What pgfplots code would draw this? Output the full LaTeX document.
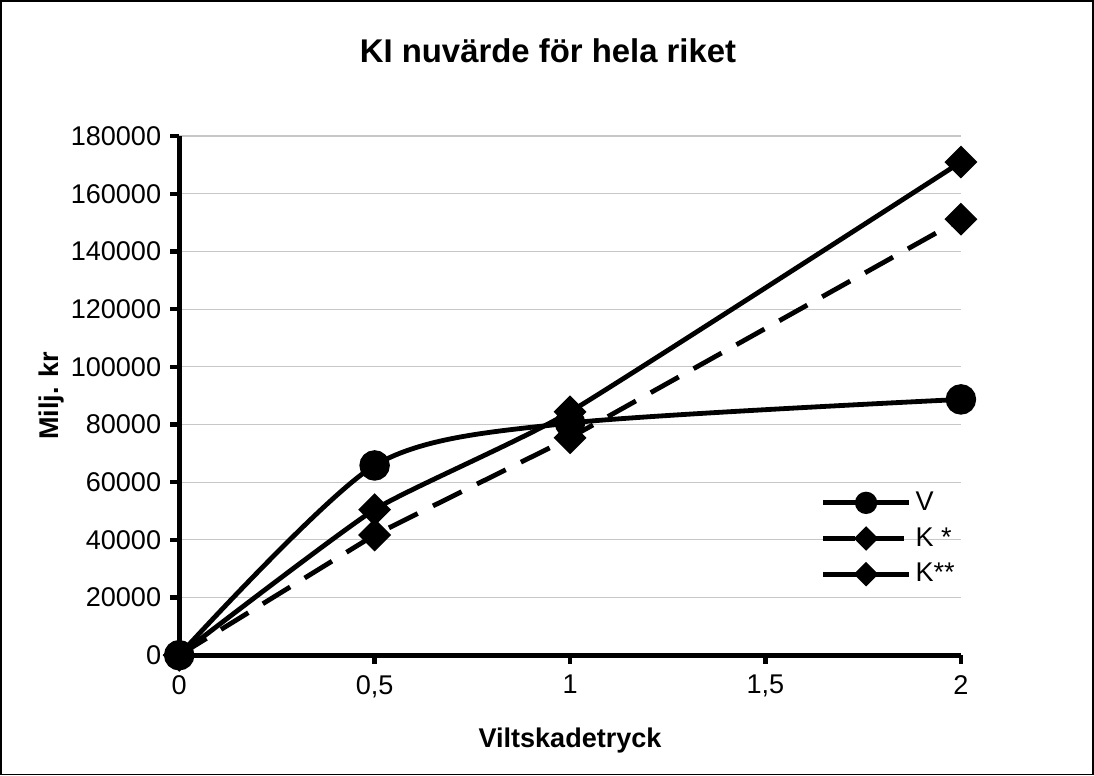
\documentclass[border=0pt]{standalone}
\usepackage{fontspec}
\setmainfont{Liberation Sans}
\usepackage{pgfplots}
\pgfplotsset{compat=1.18}
\usetikzlibrary{plotmarks}

% Values in Milj. kr per Viltskadetryck level
\pgfplotstableread{
x     V      Ks     Kss
0     0      0      0
0.5   65800  41700  50500
1     80500  75400  84400
2     88700  151200 171000
}\kidata

\begin{document}
\begin{tikzpicture}[x=1pt,y=1pt]
\begin{axis}[
  scale only axis,
  width=390pt, height=259pt,
  xmin=0, xmax=2, ymin=0, ymax=180000,
  axis lines=left,
  axis line style={line width=2.6pt, -},
  xtick={0,0.5,1,1.5,2},
  xticklabels={0,{0,5},1,{1,5},2},
  ytick={0,20000,...,180000},
  scaled y ticks=false,
  yticklabel style={/pgf/number format/fixed, /pgf/number format/1000 sep={}},
  /pgf/number format/assume math mode=true,
  tick style={black, line width=2.2pt},
  major tick style={line width=2.2pt},
  tick align=outside,
  major tick length=4.5pt,
  ymajorgrids,
  major grid style={color=black!22, line width=0.6pt},
  ticklabel style={font=\fontsize{13.5}{15}\selectfont},
  xticklabel style={yshift=-2pt},
  yticklabel style={xshift=-1pt},
  title={\textbf{KI nuvärde för hela riket}},
  title style={font=\fontsize{16.4}{18}\selectfont, at={(0.5,1)}, yshift=27pt, xshift=-11pt},
  xlabel={\textbf{Viltskadetryck}},
  ylabel={\textbf{Milj. kr}},
  label style={font=\fontsize{13.5}{15}\selectfont},
  xlabel style={yshift=-8pt},
  ylabel style={yshift=-3.5pt},
  clip=false,
  legend style={at={(axis cs:1.64,59500)}, anchor=north west, draw=none, fill=none,
    font=\fontsize{13.5}{15}\selectfont, row sep=3pt, inner xsep=0pt,
    /tikz/every even column/.append style={column sep=1pt}},
  legend cell align=left,
  legend image code/.code={
    \draw[#1, mark size=0pt] (0pt,0pt) -- (43pt,0pt);
    \draw[#1, solid, /tikz/every mark/.append style={scale=0.68, solid}]
      plot coordinates {(21.5pt,0pt)};
  },
]
\addplot[black, line width=2.4pt, smooth, tension=0.45, mark=*, mark size=6.4pt]
  table[x=x, y=V] {\kidata};
\addlegendentry{V}
\addplot[black, line width=2.4pt, dash pattern=on 16pt off 8.5pt, mark=square*, mark size=4.6pt,
  mark options={solid, rotate=45}]
  table[x=x, y=Ks] {\kidata};
\addlegendentry{K *}
\addplot[black, line width=2.4pt, smooth, tension=0.3, mark=square*, mark size=4.6pt,
  mark options={rotate=45}]
  table[x=x, y=Kss] {\kidata};
\addlegendentry{K**}
\end{axis}
% figure frame
\draw[black, line width=0.8pt] (-89pt,-59.5pt) rectangle (456pt,326.5pt);
\end{tikzpicture}
\end{document}
